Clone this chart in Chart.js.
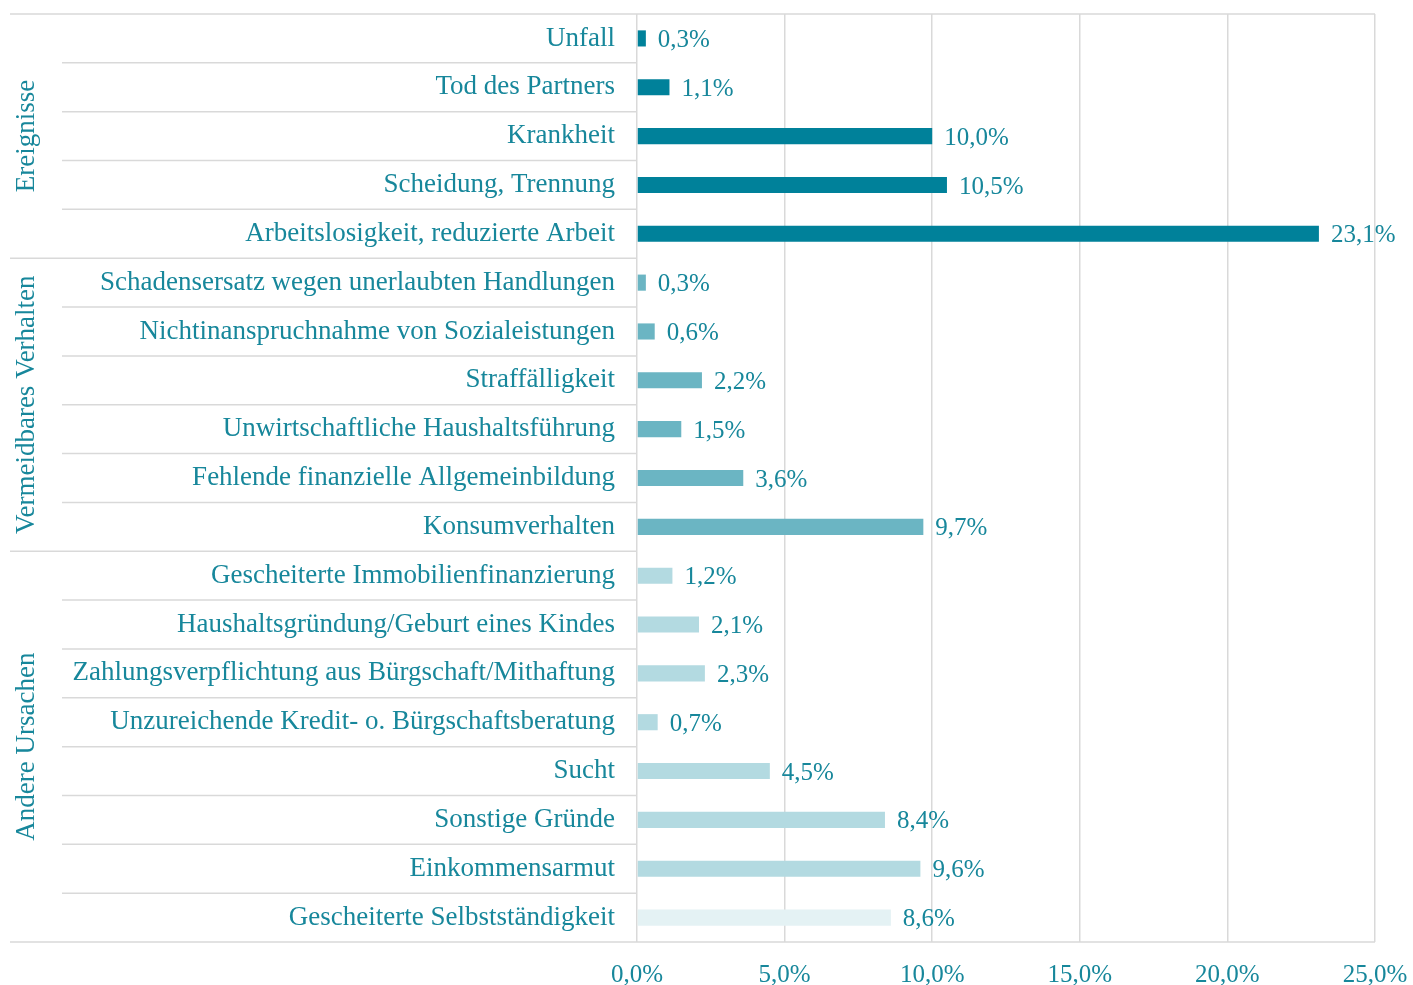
<!DOCTYPE html>
<html>
<head>
<meta charset="utf-8">
<script src="https://cdn.jsdelivr.net/npm/chart.js@4"></script>
<style>
  html, body { margin: 0; padding: 0; background: #fff; }
  #wrap { width: 1413px; height: 985px; }
</style>
</head>
<body>
<div id="wrap"><canvas id="chart" width="1413" height="985"></canvas></div>
<script>
const categories = [
  'Unfall', 'Tod des Partners', 'Krankheit', 'Scheidung, Trennung', 'Arbeitslosigkeit, reduzierte Arbeit',
  'Schadensersatz wegen unerlaubten Handlungen', 'Nichtinanspruchnahme von Sozialeistungen', 'Straffälligkeit',
  'Unwirtschaftliche Haushaltsführung', 'Fehlende finanzielle Allgemeinbildung', 'Konsumverhalten',
  'Gescheiterte Immobilienfinanzierung', 'Haushaltsgründung/Geburt eines Kindes',
  'Zahlungsverpflichtung aus Bürgschaft/Mithaftung', 'Unzureichende Kredit- o. Bürgschaftsberatung',
  'Sucht', 'Sonstige Gründe', 'Einkommensarmut', 'Gescheiterte Selbstständigkeit'
];
const values = [0.3, 1.1, 10.0, 10.5, 23.1, 0.3, 0.6, 2.2, 1.5, 3.6, 9.7, 1.2, 2.1, 2.3, 0.7, 4.5, 8.4, 9.6, 8.6];
const groupNames = ['Ereignisse', 'Vermeidbares Verhalten', 'Andere Ursachen'];
const groupSizes = [5, 6, 8];
const xTicks = [0, 5, 10, 15, 20, 25];

const TEXT = '#17879b';
const LINE = '#d9d9d9';
const FONT = 'Liberation Serif';
const LABEL_SIZE = 27;
const NUM_SIZE = 25;
const groupColors = ['#00819a', '#6bb5c3', '#b3dae1'];
const barColors = [];
groupSizes.forEach((n, g) => { for (let i = 0; i < n; i++) barColors.push(groupColors[g]); });
barColors[barColors.length - 1] = '#e4f2f4';

function pct(v) { return v.toFixed(1).replace('.', ',') + '%'; }

const decor = {
  id: 'decor',
  beforeDatasetsDraw(chart) {
    const ctx = chart.ctx, y = chart.scales.y, area = chart.chartArea;
    const left = 10, inner = 62;
    ctx.save();
    ctx.strokeStyle = LINE;
    ctx.lineWidth = 1.5;
    // top and bottom lines
    [area.top, area.bottom].forEach(py => {
      ctx.beginPath(); ctx.moveTo(left, py); ctx.lineTo(area.right, py); ctx.stroke();
    });
    // separators between categories
    let idx = 0;
    const bounds = [];
    groupSizes.forEach(n => { bounds.push(idx); idx += n; });
    for (let i = 1; i < categories.length; i++) {
      const py = (y.getPixelForValue(i - 1) + y.getPixelForValue(i)) / 2;
      const x0 = bounds.includes(i) ? left : inner;
      ctx.beginPath(); ctx.moveTo(x0, py); ctx.lineTo(area.left, py); ctx.stroke();
    }
    // group names, rotated
    ctx.fillStyle = TEXT;
    ctx.font = LABEL_SIZE + 'px "' + FONT + '"';
    ctx.textAlign = 'center';
    ctx.textBaseline = 'middle';
    groupSizes.forEach((n, g) => {
      const first = bounds[g], last = first + n - 1;
      const top = first === 0 ? area.top : (y.getPixelForValue(first - 1) + y.getPixelForValue(first)) / 2;
      const bot = last === categories.length - 1 ? area.bottom : (y.getPixelForValue(last) + y.getPixelForValue(last + 1)) / 2;
      ctx.save();
      ctx.translate(27, (top + bot) / 2);
      ctx.rotate(-Math.PI / 2);
      ctx.fillText(groupNames[g], 0, 0);
      ctx.restore();
    });
    ctx.restore();
  },
  afterDatasetsDraw(chart) {
    const ctx = chart.ctx;
    const meta = chart.getDatasetMeta(0);
    ctx.save();
    ctx.fillStyle = TEXT;
    ctx.font = NUM_SIZE + 'px "' + FONT + '"';
    ctx.textAlign = 'left';
    ctx.textBaseline = 'middle';
    meta.data.forEach((bar, i) => {
      ctx.fillText(pct(values[i]), bar.x + 12, bar.y + 2);
    });
    ctx.restore();
  }
};

new Chart(document.getElementById('chart'), {
  type: 'bar',
  data: {
    labels: categories,
    datasets: [{
      data: values,
      backgroundColor: barColors,
      borderWidth: 0,
      barPercentage: 0.33,
      categoryPercentage: 1
    }]
  },
  options: {
    indexAxis: 'y',
    responsive: false,
    animation: false,
    layout: { padding: { left: 10, right: 38, top: 14, bottom: 0 } },
    plugins: {
      legend: { display: false },
      tooltip: { enabled: false }
    },
    scales: {
      x: {
        min: 0, max: 25,
        afterBuildTicks: s => { s.ticks = xTicks.map(v => ({ value: v })); },
        afterFit: s => { s.height = 43; s.paddingLeft = 0; s.paddingRight = 0; },
        grid: { color: LINE, lineWidth: 1.5, drawTicks: false },
        border: { display: false },
        ticks: {
          color: TEXT, padding: 18,
          font: { family: FONT, size: NUM_SIZE },
          maxRotation: 0,
          callback: v => pct(v)
        }
      },
      y: {
        afterFit: s => { s.width = 627; s.paddingTop = 0; s.paddingBottom = 0; },
        grid: { display: false, drawTicks: false },
        border: { display: false },
        ticks: {
          color: TEXT, padding: 22, autoSkip: false,
          font: { family: FONT, size: LABEL_SIZE }
        }
      }
    }
  },
  plugins: [decor]
});
</script>
</body>
</html>
